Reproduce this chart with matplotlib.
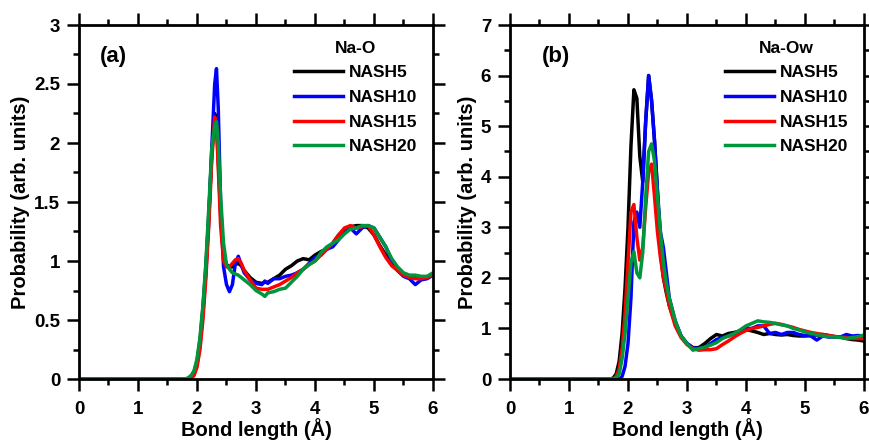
import matplotlib
matplotlib.use('Agg')

import matplotlib.pyplot as plt
from matplotlib.ticker import MultipleLocator, FormatStrFormatter

plt.rcParams['font.family'] = 'Liberation Sans'
plt.rcParams['font.weight'] = 'bold'

labels = ["NASH5", "NASH10", "NASH15", "NASH20"]
colors = ["black", "#0000ff", "#ff0000", "#00963c"]

# panel (a): Na-O
xa = [0, 1.8, 1.85, 1.9, 1.95, 2.0, 2.05, 2.1, 2.15, 2.2, 2.25, 2.3, 2.33, 2.36,
      2.4, 2.45, 2.5, 2.55, 2.6, 2.65, 2.7, 2.75, 2.8, 2.9, 3.0, 3.1, 3.15, 3.2,
      3.3, 3.4, 3.5, 3.6, 3.7, 3.8, 3.9, 4.0, 4.1, 4.2, 4.3, 4.4, 4.5, 4.6, 4.7,
      4.8, 4.9, 5.0, 5.1, 5.2, 5.3, 5.4, 5.5, 5.6, 5.7, 5.8, 5.9, 6.0]
nash5_a = [0, 0, 0.005, 0.02, 0.06, 0.15, 0.32, 0.6, 0.95, 1.4, 1.9, 2.25, 2.18, 1.85,
           1.4, 1.05, 0.97, 0.95, 0.95, 0.97, 0.98, 0.96, 0.92, 0.86, 0.82, 0.81, 0.82, 0.82,
           0.85, 0.88, 0.93, 0.96, 1.0, 1.02, 1.01, 1.05, 1.08, 1.1, 1.15, 1.22, 1.27, 1.29, 1.3,
           1.3, 1.28, 1.22, 1.13, 1.05, 0.97, 0.92, 0.88, 0.87, 0.86, 0.85, 0.86, 0.88]
nash10_a = [0, 0, 0, 0.01, 0.04, 0.12, 0.28, 0.55, 0.9, 1.35, 1.95, 2.5, 2.63, 2.3,
            1.5, 0.95, 0.8, 0.74, 0.8, 0.98, 1.04, 0.97, 0.9, 0.84, 0.81, 0.8, 0.83, 0.81,
            0.85, 0.85, 0.87, 0.88, 0.9, 0.93, 0.98, 1.03, 1.05, 1.1, 1.12, 1.18, 1.26, 1.28, 1.23,
            1.28, 1.3, 1.28, 1.2, 1.12, 1.0, 0.92, 0.87, 0.85, 0.8, 0.84, 0.85, 0.88]
nash15_a = [0, 0, 0, 0.005, 0.03, 0.1, 0.25, 0.5, 0.85, 1.3, 1.85, 2.22, 2.15, 1.8,
            1.3, 1.0, 0.95, 0.95, 0.98, 1.01, 1.02, 0.98, 0.92, 0.84, 0.77, 0.76, 0.76, 0.76,
            0.78, 0.8, 0.83, 0.86, 0.9, 0.93, 0.97, 1.0, 1.05, 1.1, 1.15, 1.22, 1.28, 1.3, 1.28,
            1.29, 1.3, 1.22, 1.12, 1.03, 0.96, 0.92, 0.88, 0.86, 0.85, 0.85, 0.86, 0.88]
nash20_a = [0, 0, 0.01, 0.03, 0.07, 0.17, 0.35, 0.62, 0.98, 1.45, 1.95, 2.15, 2.18, 2.0,
            1.55, 1.15, 0.97, 0.93, 0.9, 0.89, 0.88, 0.86, 0.84, 0.8, 0.75, 0.72, 0.7, 0.73,
            0.74, 0.76, 0.77, 0.82, 0.87, 0.93, 0.97, 1.0, 1.07, 1.12, 1.15, 1.18, 1.23, 1.27, 1.28,
            1.3, 1.3, 1.28, 1.2, 1.12, 1.02, 0.95, 0.9, 0.88, 0.88, 0.87, 0.87, 0.9]

# panel (b): Na-Ow
xb = [0, 1.7, 1.75, 1.8, 1.85, 1.9, 1.95, 2.0, 2.05, 2.1, 2.15, 2.2, 2.25, 2.3,
      2.35, 2.4, 2.45, 2.5, 2.55, 2.6, 2.65, 2.7, 2.8, 2.9, 3.0, 3.1, 3.2, 3.3,
      3.4, 3.5, 3.6, 3.7, 3.8, 3.9, 4.0, 4.1, 4.2, 4.3, 4.4, 4.5, 4.6, 4.7, 4.8,
      4.9, 5.0, 5.1, 5.2, 5.3, 5.4, 5.5, 5.6, 5.7, 5.8, 5.9, 6.0]
nash5_b = [0, 0, 0.02, 0.1, 0.35, 0.9, 1.8, 3.0, 4.6, 5.72, 5.55, 4.4, 3.9, 5.1,
           6.0, 5.5, 4.7, 3.7, 2.5, 2.0, 1.7, 1.45, 1.1, 0.85, 0.7, 0.62, 0.62, 0.7,
           0.8, 0.88, 0.85, 0.9, 0.92, 0.95, 0.98, 0.95, 0.92, 0.88, 0.9, 0.88, 0.87, 0.88, 0.86,
           0.85, 0.85, 0.87, 0.87, 0.88, 0.86, 0.84, 0.83, 0.8, 0.78, 0.77, 0.75]
nash10_b = [0, 0, 0, 0, 0, 0.05, 0.25, 0.7, 1.6, 3.1, 3.3, 3.0, 3.9, 5.1,
            6.0, 5.5, 4.7, 3.7, 2.9, 2.6, 2.1, 1.6, 1.15, 0.85, 0.7, 0.62, 0.6, 0.62,
            0.7, 0.78, 0.82, 0.85, 0.9, 0.95, 1.0, 1.0, 1.05, 1.05, 0.9, 0.92, 0.88, 0.92, 0.92,
            0.88, 0.86, 0.85, 0.77, 0.85, 0.83, 0.83, 0.83, 0.88, 0.85, 0.86, 0.85]
nash15_b = [0, 0, 0, 0.05, 0.2, 0.6, 1.3, 2.3, 3.3, 3.45, 2.8, 2.35, 2.6, 3.4,
            4.1, 4.25, 3.6, 2.9, 2.4, 2.0, 1.75, 1.45, 1.05, 0.82, 0.68, 0.6, 0.57, 0.58,
            0.58, 0.6, 0.68, 0.75, 0.83, 0.9, 0.96, 1.0, 1.02, 1.05, 1.08, 1.1, 1.08, 1.05, 1.02,
            0.98, 0.95, 0.92, 0.9, 0.88, 0.86, 0.84, 0.83, 0.82, 0.8, 0.8, 0.8]
nash20_b = [0, 0, 0, 0.03, 0.1, 0.4, 0.9, 1.6, 2.3, 2.52, 2.1, 2.0, 2.5, 3.6,
            4.5, 4.65, 4.3, 3.6, 2.9, 2.3, 1.9, 1.6, 1.15, 0.85, 0.7, 0.57, 0.6, 0.63,
            0.67, 0.72, 0.8, 0.85, 0.9, 0.97, 1.05, 1.1, 1.15, 1.13, 1.12, 1.1, 1.07, 1.05, 1.0,
            0.97, 0.93, 0.9, 0.88, 0.85, 0.84, 0.83, 0.82, 0.8, 0.82, 0.84, 0.87]

panels = [
    ("(a)", "Na-O", xa, [nash5_a, nash10_a, nash15_a, nash20_a], 3, 0.5, 0.25),
    ("(b)", "Na-Ow", xb, [nash5_b, nash10_b, nash15_b, nash20_b], 7, 1, 0.5),
]

fig = plt.figure(figsize=(8.7, 4.4), dpi=100)
lefts = [79 / 870, 510 / 870]
tag_x = [0.06, 0.09]

for left, tx, (tag, title, x, series, ymax, ymaj, ymin) in zip(lefts, tag_x, panels):
    ax = fig.add_axes([left, 61 / 440, 354 / 870, 354 / 440])
    for y, lab, c in zip(series, labels, colors):
        ax.plot(x, y, color=c, lw=2.5, label=lab)
    ax.set_xlim(0, 6)
    ax.set_ylim(0, ymax)
    ax.xaxis.set_major_locator(MultipleLocator(1))
    ax.xaxis.set_minor_locator(MultipleLocator(0.5))
    ax.yaxis.set_major_locator(MultipleLocator(ymaj))
    ax.yaxis.set_minor_locator(MultipleLocator(ymin))
    ax.yaxis.set_major_formatter(FormatStrFormatter('%g'))
    ax.tick_params(which='both', direction='out', top=True, right=True,
                   width=1.8, labelsize=13.5)
    ax.tick_params(which='major', length=8.5, pad=5)
    ax.tick_params(axis='x', which='major', pad=7.5)
    ax.tick_params(which='minor', length=4.5)
    for s in ax.spines.values():
        s.set_linewidth(2)
    ax.set_xlabel("Bond length (Å)", fontsize=14.5, fontweight='bold', labelpad=0)
    ax.set_ylabel("Probability (arb. units)", fontsize=14.5, fontweight='bold', labelpad=3)
    ax.text(tx, 0.91, tag, transform=ax.transAxes, fontsize=16,
            fontweight='bold', va='center')
    leg = ax.legend(title=title, loc='upper right', frameon=False,
                    fontsize=12.5, handlelength=2.8, handletextpad=0.35,
                    labelspacing=0.55, borderaxespad=0.5,
                    title_fontproperties={'weight': 'bold', 'size': 12.5})

fig.savefig("out.png", dpi=100)
